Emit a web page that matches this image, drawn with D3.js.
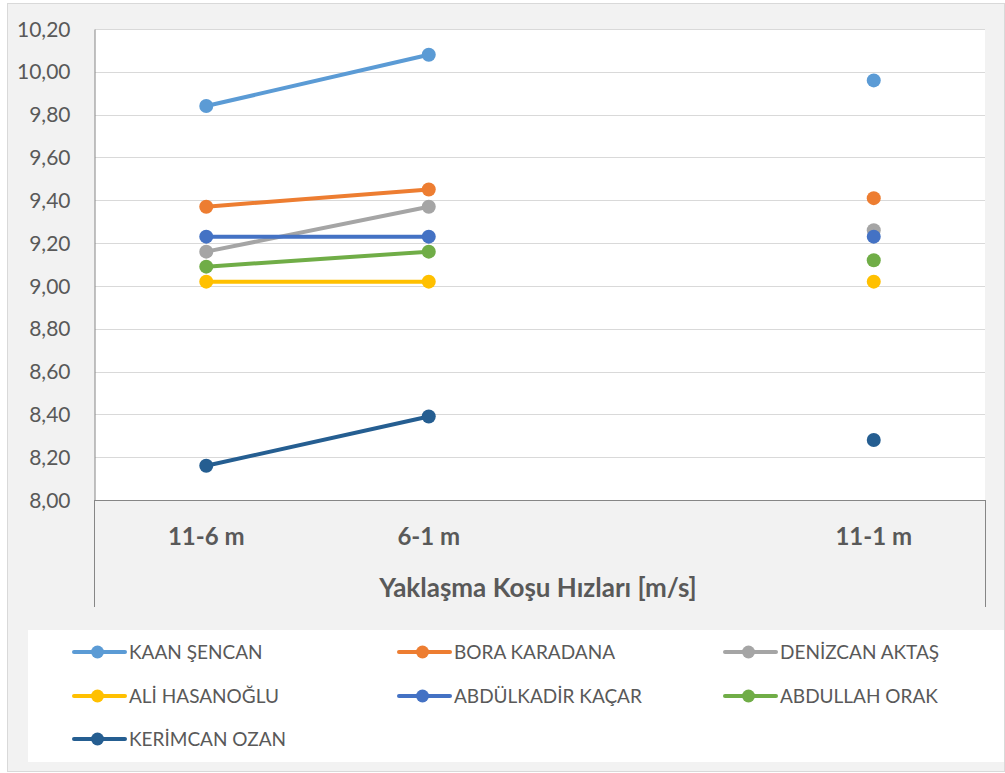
<!DOCTYPE html>
<html>
<head>
<meta charset="utf-8">
<style>
  body { margin: 0; background: #fff; }
  text { font-family: Lato, "Open Sans", sans-serif; fill: #595959; }
</style>
</head>
<body>
<svg width="1005" height="773"></svg>
<script src="https://d3js.org/d3.v7.min.js"></script>
<script>

// categories (third slot is an empty category on the axis)
var categories = ["11-6 m", "6-1 m", "", "11-1 m"];
var axisTitle = "Yaklaşma Koşu Hızları [m/s]";
var yTicks = [8.0, 8.2, 8.4, 8.6, 8.8, 9.0, 9.2, 9.4, 9.6, 9.8, 10.0, 10.2];

var names = ["KAAN ŞENCAN", "BORA KARADANA", "DENİZCAN AKTAŞ", "ALİ HASANOĞLU",
             "ABDÜLKADİR KAÇAR", "ABDULLAH ORAK", "KERİMCAN OZAN"];
var colors = ["#5B9BD5", "#ED7D31", "#A5A5A5", "#FFC000", "#4472C4", "#70AD47", "#255E91"];

var kaan     = [9.84, 10.08, null, 9.96];
var bora     = [9.37, 9.45, null, 9.41];
var denizcan = [9.16, 9.37, null, 9.26];
var ali      = [9.02, 9.02, null, 9.02];
var abdulkadir = [9.23, 9.23, null, 9.23];
var abdullah = [9.09, 9.16, null, 9.12];
var kerimcan = [8.16, 8.39, null, 8.28];

var values = [kaan, bora, denizcan, ali, abdulkadir, abdullah, kerimcan];

var svg = d3.select("svg");

// chart area background
svg.append("rect")
    .attr("x", 7.5).attr("y", 3.5)
    .attr("width", 997).attr("height", 768)
    .attr("fill", "#f2f2f2")
    .attr("stroke", "#d9d9d9");

var plotLeft = 95, plotRight = 985, plotTop = 29, plotBottom = 500;

svg.append("rect")
    .attr("x", plotLeft).attr("y", plotTop)
    .attr("width", plotRight - plotLeft).attr("height", plotBottom - plotTop)
    .attr("fill", "#fff");

var x = d3.scaleBand()
    .domain(d3.range(categories.length))
    .range([plotLeft, plotRight]);

var y = d3.scaleLinear()
    .domain([8, 10.2])
    .range([plotBottom, plotTop]);

// gridlines
svg.append("g")
  .selectAll("line")
  .data(yTicks.slice(1))
  .enter().append("line")
    .attr("x1", plotLeft).attr("x2", plotRight)
    .attr("y1", function(d) { return Math.round(y(d)) + 0.5; })
    .attr("y2", function(d) { return Math.round(y(d)) + 0.5; })
    .attr("stroke", "#d9d9d9");

// y axis
var yAxis = svg.append("g")
    .attr("transform", "translate(" + (plotLeft - 0.5) + ",0)")
    .call(d3.axisLeft(y).tickValues(yTicks).tickSize(0).tickPadding(24)
      .tickFormat(function(d) { return d3.format(".2f")(d).replace(".", ","); }));
yAxis.select(".domain").attr("stroke", "#868686");
yAxis.selectAll("text")
    .style("font-size", "21px")
    .attr("dy", "0.34em");

// category axis box (multi-level)
var axisBottom = 607;
svg.append("line")
    .attr("x1", plotLeft).attr("x2", plotRight)
    .attr("y1", plotBottom + 0.5).attr("y2", plotBottom + 0.5)
    .attr("stroke", "#868686");
[plotLeft - 0.5, plotRight + 0.5].forEach(function(px) {
  svg.append("line")
      .attr("x1", px).attr("x2", px)
      .attr("y1", plotBottom).attr("y2", axisBottom)
      .attr("stroke", "#868686");
});

svg.append("g")
  .selectAll("text")
  .data(categories)
  .enter().append("text")
    .attr("x", function(d, i) { return x(i) + x.bandwidth() / 2; })
    .attr("y", 545)
    .attr("text-anchor", "middle")
    .style("font-size", "24px")
    .style("font-weight", "bold")
    .text(function(d) { return d; });

svg.append("text")
    .attr("x", (plotLeft + plotRight) / 2 - 2)
    .attr("y", 597)
    .attr("text-anchor", "middle")
    .style("font-size", "26px")
    .style("font-weight", "bold")
    .text(axisTitle);

// series
var line = d3.line()
    .defined(function(d) { return d != null; })
    .x(function(d, i) { return x(i) + x.bandwidth() / 2; })
    .y(function(d) { return y(d); });

values.forEach(function(vals, s) {
  var g = svg.append("g");
  g.append("path")
      .attr("d", line(vals))
      .attr("fill", "none")
      .attr("stroke", colors[s])
      .attr("stroke-width", 4)
      .attr("stroke-linecap", "round");
  g.selectAll("circle")
    .data(vals.map(function(v, i) { return {v: v, i: i}; })
      .filter(function(d) { return d.v != null; }))
    .enter().append("circle")
      .attr("cx", function(d) { return x(d.i) + x.bandwidth() / 2; })
      .attr("cy", function(d) { return y(d.v); })
      .attr("r", 7)
      .attr("fill", colors[s]);
});

// legend
svg.append("rect")
    .attr("x", 28).attr("y", 630)
    .attr("width", 976).attr("height", 132)
    .attr("fill", "#fff");

var colX = [74, 399, 725], rowY = [652, 696, 739];
var legend = svg.append("g")
  .selectAll("g")
  .data(names)
  .enter().append("g")
    .attr("transform", function(d, i) {
      return "translate(" + colX[i % 3] + "," + rowY[Math.floor(i / 3)] + ")";
    });
legend.append("line")
    .attr("x1", 0).attr("x2", 51)
    .attr("stroke", function(d, i) { return colors[i]; })
    .attr("stroke-width", 4)
    .attr("stroke-linecap", "round");
legend.append("circle")
    .attr("cx", 23.5)
    .attr("r", 6.5)
    .attr("fill", function(d, i) { return colors[i]; });
legend.append("text")
    .attr("x", 55)
    .attr("dy", "0.36em")
    .style("font-size", "19px")
    .text(function(d) { return d; });

</script>
</body>
</html>
